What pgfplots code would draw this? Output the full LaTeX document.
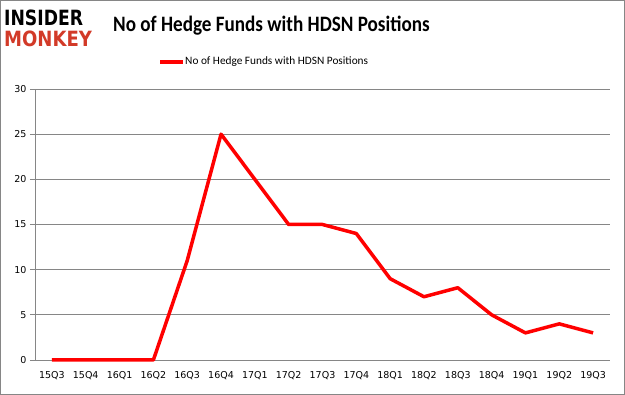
\documentclass[border=0pt]{standalone}
\usepackage{pgfplots}
\pgfplotsset{compat=1.18}
\usepackage{fontspec}
\setmainfont{DejaVu Sans}
\newfontfamily\calibri{Carlito}
\newfontfamily\logofont{DejaVu Sans}
\definecolor{gridgray}{RGB}{134,134,134}
\definecolor{monkeyred}{RGB}{210,58,40}
\begin{document}
\begin{tikzpicture}[x=1pt,y=1pt]
\draw[gridgray,line width=1pt] (0.5,0.5) rectangle (624.5,394.5);
\begin{axis}[
  at={(35pt,35pt)}, anchor=south west,
  scale only axis, width=575pt, height=271pt,
  xmin=-0.5, xmax=16.5, ymin=0, ymax=30,
  axis x line*=bottom, axis y line*=left,
  axis line style={gridgray,line width=0.8pt,-},
  xtick={0,...,16},
  xticklabels={15Q3,15Q4,16Q1,16Q2,16Q3,16Q4,17Q1,17Q2,17Q3,17Q4,18Q1,18Q2,18Q3,18Q4,19Q1,19Q2,19Q3},
  major x tick style={draw=none},
  extra x ticks={-0.5,0.5,...,16.5},
  extra x tick labels={},
  extra x tick style={tick style={gridgray,line width=0.8pt}, major tick length=5pt, tick align=outside, grid=none},
  ytick={0,5,...,30},
  ymajorgrids,
  grid style={gridgray,line width=0.8pt},
  tick align=outside, major tick length=5pt,
  y tick style={gridgray,line width=0.8pt},
  tick label style={font=\fontsize{9.5}{11}\selectfont, text=black},
  /pgf/number format/assume math mode=true,
  xticklabel style={yshift=-3pt},
  clip=false,
]
\addplot[red, line width=3.5pt, line join=round] coordinates {
(0,0) (1,0) (2,0) (3,0) (4,11) (5,25) (6,20) (7,15) (8,15) (9,14) (10,9) (11,7) (12,8) (13,5) (14,3) (15,4) (16,3)
};
\end{axis}
% legend
\draw[red, line width=3.5pt] (160,333) -- (183,333);
\node[anchor=west, inner sep=0pt, font=\calibri\fontsize{11.3}{12}\selectfont] at (185,333.5) {No of Hedge Funds with HDSN Positions};
% title
\node[anchor=west, inner sep=0pt, font=\calibri\bfseries\fontsize{22}{26}\selectfont, xscale=0.87] at (113,369) {No of Hedge Funds with HDSN Positions};
% logo
\node[anchor=west, inner sep=0pt, font=\logofont\bfseries\fontsize{21}{21}\selectfont, xscale=0.82] at (4,377) {INSIDER};
\node[anchor=west, inner sep=0pt, font=\logofont\bfseries\fontsize{21}{21}\selectfont, text=monkeyred, xscale=0.86] at (4,356) {MONKEY};
\end{tikzpicture}
\end{document}
